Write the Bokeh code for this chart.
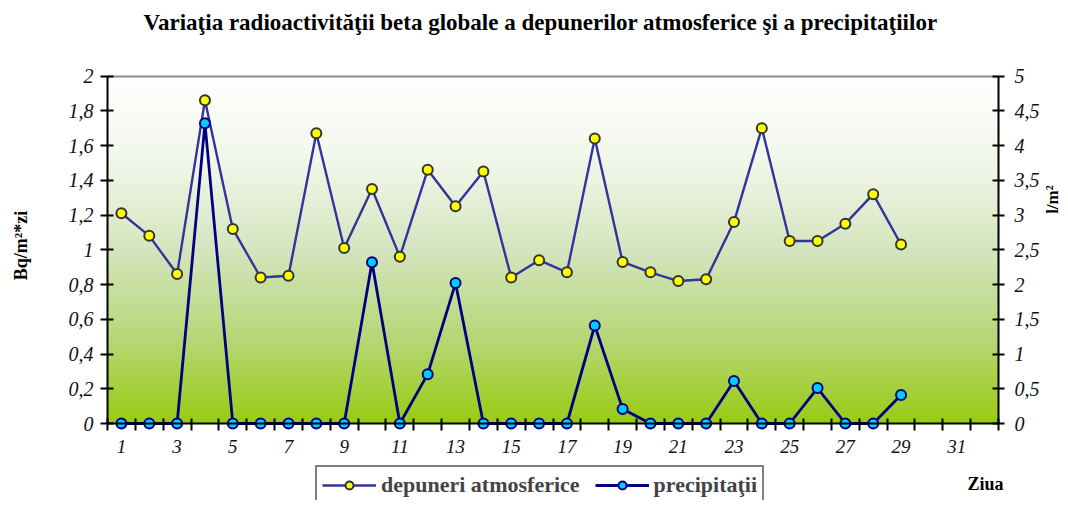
import math
import numpy as np
from bokeh.plotting import figure
from bokeh.models import (Range1d, LinearAxis, FixedTicker, CustomJSTickFormatter,
                          Legend, LegendItem, Label)
from bokeh.embed import file_html
from bokeh.resources import INLINE

# ---------------- data ----------------
days = list(range(1, 30))
depuneri = [1.21, 1.08, 0.86, 1.86, 1.12, 0.84, 0.85, 1.67, 1.01, 1.35,
            0.96, 1.46, 1.25, 1.45, 0.84, 0.94, 0.87, 1.64, 0.93, 0.87,
            0.82, 0.83, 1.16, 1.70, 1.05, 1.05, 1.15, 1.32, 1.03]
precipitatii = [0, 0, 0, 4.32, 0, 0, 0, 0, 0, 2.32,
                0, 0.71, 2.02, 0, 0, 0, 0, 1.41, 0.21, 0,
                0, 0, 0.61, 0, 0, 0.51, 0, 0, 0.41]
x_labels = list(range(1, 32, 2))
n_slots = 32
left_max, right_max = 2, 5
left_ticks = [round(0.2 * i, 1) for i in range(11)]
right_ticks = [round(0.5 * i, 1) for i in range(11)]

title_text = "Variaţia radioactivităţii beta globale a depunerilor atmosferice şi a precipitaţiilor"
legend_labels = ["depuneri atmosferice", "precipitaţii"]
left_title = "Bq/m²*zi"
right_title = "l/m²"
x_title = "Ziua"
FONT = "Liberation Serif"

# ---------------- layout (pixels) ----------------
W, H = 1064, 500
PL, PR, PT, PB = 107, 998, 75.5, 423      # plot-area edges on the canvas
XS = (PR - PL) / n_slots                   # px per day
YS = (PB - PT) / left_max                  # px per left-axis unit
x0, x1 = 0.5, n_slots + 0.5


def x_of(px):
    return x0 + (px - PL) / XS


def y_of(py):
    return (PB - py) / YS


k = right_max / left_max
p = figure(width=W, height=H, output_backend="svg", toolbar_location=None, title=None,
           x_range=Range1d(x_of(0), x_of(W)), y_range=Range1d(y_of(H), y_of(0)),
           min_border_left=0, min_border_right=0, min_border_top=0, min_border_bottom=0,
           x_axis_type=None, y_axis_type=None)
p.extra_y_ranges = {"prec": Range1d(y_of(H) * k, y_of(0) * k)}
p.grid.visible = False
p.background_fill_color = "white"
p.border_fill_color = "white"
p.outline_line_color = None

# gradient background of the plot area
n = 256
img = np.empty((n, 1), dtype=np.uint32)
view = img.view(dtype=np.uint8).reshape((n, 1, 4))
t = np.linspace(0.0, 1.0, n)  # 0 = bottom, 1 = top
stops_t = [0.0, 0.25, 0.5, 0.75, 1.0]
stops_c = [(153, 203, 20), (183, 215, 120), (212, 229, 190), (241, 246, 233), (255, 255, 255)]
for c in range(3):
    view[:, 0, c] = np.round(np.interp(t, stops_t, [s[c] for s in stops_c])).astype(np.uint8)
view[:, 0, 3] = 255
p.image_rgba(image=[img], x=x0, y=0, dw=n_slots, dh=left_max)

fmt = CustomJSTickFormatter(code="var s = (Math.round(tick*10)/10).toString(); return s.replace('.', ',');")

# top border of the plot area (grey line)
xtop = LinearAxis(ticker=FixedTicker(ticks=[], minor_ticks=[]), fixed_location=left_max, bounds=(x0, x1))
xtop.axis_line_color = "#8a8a8a"
xtop.axis_line_width = 2
xtop.major_tick_out = 0
xtop.major_tick_in = 0
xtop.major_label_text_font_size = "0px"
p.add_layout(xtop, "above")

# x axis
xax = LinearAxis(ticker=FixedTicker(ticks=x_labels, minor_ticks=[i + 0.5 for i in range(0, n_slots + 1)]),
                 fixed_location=0, bounds=(x0, x1))
xax.major_tick_line_color = None
xax.major_tick_out = 7
xax.major_tick_in = 0
xax.minor_tick_in = 5
xax.minor_tick_out = 7
xax.minor_tick_line_width = 2
xax.minor_tick_line_color = "black"
xax.axis_line_width = 2
xax.axis_line_color = "black"
xax.major_label_standoff = 9
xax.major_label_text_font = FONT
xax.major_label_text_font_style = "italic"
xax.major_label_text_font_size = "19px"
xax.major_label_text_color = "#111111"
p.add_layout(xax, "below")

# left axis
yl = LinearAxis(ticker=FixedTicker(ticks=left_ticks, minor_ticks=[]), formatter=fmt,
                fixed_location=x0, bounds=(0, left_max))
yl.major_tick_in = 6
yl.major_tick_out = 7
yl.major_tick_line_width = 2
yl.axis_line_width = 2
yl.major_label_standoff = 7
yl.major_label_text_font = FONT
yl.major_label_text_font_style = "italic"
yl.major_label_text_font_size = "20px"
yl.major_label_text_color = "#111111"
p.add_layout(yl, "left")

# right axis
yr = LinearAxis(y_range_name="prec", ticker=FixedTicker(ticks=right_ticks, minor_ticks=[]), formatter=fmt,
                fixed_location=x1, bounds=(0, right_max))
yr.major_tick_in = 6
yr.major_tick_out = 6
yr.major_tick_line_width = 2
yr.axis_line_width = 2
yr.major_label_standoff = 10
yr.major_label_text_font = FONT
yr.major_label_text_font_style = "italic"
yr.major_label_text_font_size = "20px"
yr.major_label_text_color = "#111111"
p.add_layout(yr, "right")

# series
DEP_LINE, DEP_FILL, DEP_EDGE = "#333399", "#FFFF00", "#333333"
PRE_LINE, PRE_FILL, PRE_EDGE = "#000080", "#00CCFF", "#000080"
l1 = p.line(days, depuneri, line_color=DEP_LINE, line_width=2.4)
s1 = p.scatter(days, depuneri, size=10, fill_color=DEP_FILL, line_color=DEP_EDGE, line_width=2)
l2 = p.line(days, precipitatii, line_color=PRE_LINE, line_width=2.8, y_range_name="prec")
s2 = p.scatter(days, precipitatii, size=10, fill_color=PRE_FILL, line_color=PRE_EDGE, line_width=2,
               y_range_name="prec")

# legend under the x axis
legend = Legend(items=[LegendItem(label=legend_labels[0], renderers=[l1, s1]),
                       LegendItem(label=legend_labels[1], renderers=[l2, s2])],
                orientation="horizontal", location=(315, -5))
legend.border_line_color = "black"
legend.border_line_width = 2
legend.background_fill_color = "white"
legend.background_fill_alpha = 1
legend.label_text_font = FONT
legend.label_text_font_style = "bold"
legend.label_text_font_size = "22px"
legend.label_height = 20
legend.glyph_width = 54
legend.glyph_height = 20
legend.label_standoff = 5
legend.spacing = 15
legend.padding = 5
legend.margin = 0
p.add_layout(legend)


def add_text(txt, px, py, size, angle=0.0):
    p.add_layout(Label(x=x_of(px), y=y_of(py), text=txt, angle=angle,
                       text_font=FONT, text_font_style="bold", text_font_size=size,
                       text_align="center", text_baseline="middle", text_color="black"))


add_text(title_text, 540, 22, "23px")
add_text(left_title, 20, 245, "18px", math.pi / 2)
add_text(right_title, 1052, 199, "17px", math.pi / 2)
add_text(x_title, 985, 483, "18px")

open("out.html", "w").write(file_html(p, INLINE))
